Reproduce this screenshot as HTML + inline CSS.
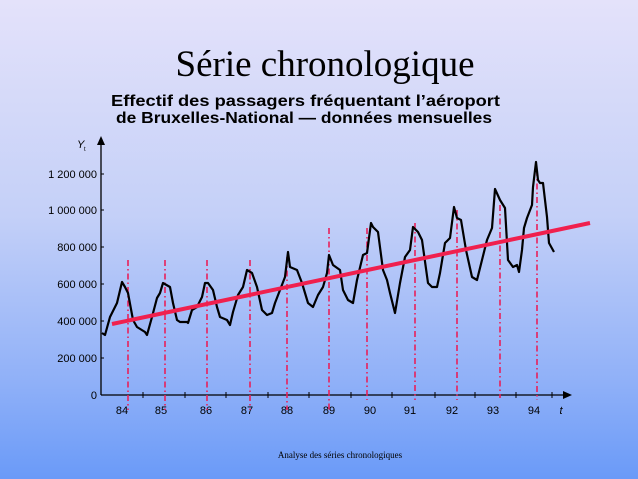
<!DOCTYPE html>
<html><head><meta charset="utf-8"><style>
html,body{margin:0;padding:0}
body{width:638px;height:479px;overflow:hidden;background:linear-gradient(#e4e2fa 0%,#c4d0f8 45%,#8fb0f8 80%,#6a9af8 100%);position:relative;font-family:"Liberation Sans",sans-serif}
</style></head><body>
<svg width="638" height="479" style="position:absolute;left:0;top:0">
<text x="325" y="76" text-anchor="middle" font-family="Liberation Serif" font-size="37">Série chronologique</text>
<text x="111" y="106" font-family="Liberation Sans" font-weight="bold" font-size="16" textLength="389" lengthAdjust="spacingAndGlyphs">Effectif des passagers fréquentant l’aéroport</text>
<text x="116" y="123" font-family="Liberation Sans" font-weight="bold" font-size="16" textLength="376" lengthAdjust="spacingAndGlyphs">de Bruxelles-National — données mensuelles</text>
<g stroke="#000" stroke-width="1.3" fill="none">
<line x1="101" y1="395" x2="101" y2="143"/>
<line x1="101" y1="395" x2="565" y2="395"/>
</g>
<polygon points="101,136 97,145 105,145" fill="#000"/>
<polygon points="572,395 563,391 563,399" fill="#000"/>
<g stroke="#000" stroke-width="1">
<line x1="101" y1="358" x2="104" y2="358"/><line x1="101" y1="321" x2="104" y2="321"/><line x1="101" y1="284" x2="104" y2="284"/><line x1="101" y1="247" x2="104" y2="247"/><line x1="101" y1="210" x2="104" y2="210"/><line x1="101" y1="174" x2="104" y2="174"/>
<line x1="143" y1="392" x2="143" y2="398"/><line x1="185" y1="392" x2="185" y2="398"/><line x1="226" y1="392" x2="226" y2="398"/><line x1="268" y1="392" x2="268" y2="398"/><line x1="309" y1="392" x2="309" y2="398"/><line x1="351" y1="392" x2="351" y2="398"/><line x1="392" y1="392" x2="392" y2="398"/><line x1="435" y1="392" x2="435" y2="398"/><line x1="475" y1="392" x2="475" y2="398"/><line x1="516" y1="392" x2="516" y2="398"/><line x1="552" y1="392" x2="552" y2="398"/>
</g>
<g font-size="11" font-family="Liberation Sans" text-anchor="end" fill="#000">
<text x="97" y="399">0</text><text x="97" y="362">200 000</text><text x="97" y="325">400 000</text><text x="97" y="288">600 000</text><text x="97" y="251">800 000</text><text x="97" y="214">1 000 000</text><text x="97" y="178">1 200 000</text>
</g>
<text x="77" y="148" font-size="11" font-style="italic">Y</text><text x="84" y="151" font-size="6">t</text>
<g font-size="11" text-anchor="middle">
<text x="122" y="414">84</text><text x="161" y="414">85</text><text x="206" y="414">86</text><text x="247" y="414">87</text><text x="287" y="414">88</text><text x="329" y="414">89</text><text x="370" y="414">90</text><text x="410" y="414">91</text><text x="452" y="414">92</text><text x="493" y="414">93</text><text x="534" y="414">94</text><text x="561" y="414" font-style="italic">t</text>
</g>
<g stroke="#e8205a" stroke-width="1.6" stroke-dasharray="6,3,1.5,3">
<line x1="128" y1="260" x2="128" y2="410"/><line x1="165" y1="260" x2="165" y2="410"/><line x1="207" y1="260" x2="207" y2="410"/><line x1="250" y1="260" x2="250" y2="410"/><line x1="287" y1="257" x2="287" y2="410"/><line x1="329" y1="228" x2="329" y2="410"/><line x1="367" y1="228" x2="367" y2="400"/><line x1="415" y1="223" x2="415" y2="400"/><line x1="457" y1="210" x2="457" y2="400"/><line x1="500" y1="205" x2="500" y2="398"/><line x1="537" y1="170" x2="537" y2="400"/>
</g>
<polyline fill="none" stroke="#000" stroke-width="2.2" stroke-linejoin="round" points="102,333 105,335 110,317 117,303 122,282 125,287 128,293 133,320 137,327 145,332 147,335 152,317 157,298 160,293 163,283 170,287 173,303 177,320 180,322 187,322 188,323 192,310 197,307 202,297 205,283 208,283 213,290 217,307 220,317 227,320 230,325 233,312 238,295 243,287 247,270 252,273 257,287 262,310 267,315 272,313 275,303 280,290 285,277 288,252 290,267 297,270 302,283 308,303 313,307 318,295 323,287 327,273 329,255 333,265 340,270 343,290 348,300 353,303 357,280 363,255 367,253 371,223 373,227 378,232 383,270 387,280 390,293 395,313 400,283 405,257 410,250 413,227 418,232 422,240 428,283 432,287 437,287 440,273 445,243 450,238 454,207 457,218 461,220 466,250 472,277 477,280 482,260 487,240 492,228 495,189 500,200 505,208 508,260 513,267 517,265 519,272 522,250 524,228 527,218 532,205 533,187 536,162 538,180 540,183 543,183 547,217 549,243 554,252"/>
<line x1="112" y1="324" x2="590" y2="223" stroke="#f0204e" stroke-width="4"/>
<text x="340" y="458" text-anchor="middle" font-family="Liberation Serif" font-size="9">Analyse des séries chronologiques</text>
</svg>
</body></html>
